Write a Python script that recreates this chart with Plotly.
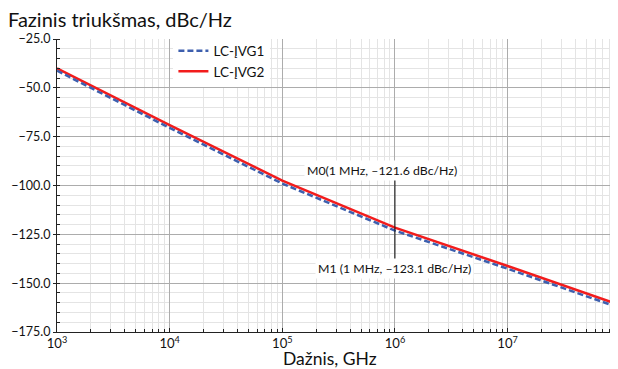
import math
import plotly.graph_objects as go

freq = [1e3, 1e4, 1e5, 1e6, 1e7, 9.5e7]
vg1 = [-41.2, -70.5, -99.0, -123.1, -142.6, -162.3]
vg2 = [-40.0, -69.1, -97.5, -121.6, -141.2, -160.8]
names = ["LC-ĮVG1", "LC-ĮVG2"]
marker_freq = 1e6
m0_val = -121.6
m1_val = -123.1
y_ticks = [-25, -50, -75, -100, -125, -150, -175]

FONT = "Lato"
# page body has an 8px margin, so the figure is sized to fit the 618x369 window
W, H = 610, 361
L, T = 49, 31
PW = W - L
PH = 292.7
B = H - T - PH

fig = go.Figure()
fig.add_trace(go.Scatter(x=freq, y=vg2, mode="lines", name=names[1],
                         line=dict(color="#f21c1c", width=2.5), showlegend=False))
fig.add_trace(go.Scatter(x=freq, y=vg1, mode="lines", name=names[0],
                         line=dict(color="#3d5fae", width=2.5, dash="6px,3px")))
fig.add_trace(go.Scatter(x=[None], y=[None], mode="lines", name=names[1],
                         line=dict(color="#f21c1c", width=2.5)))

fig.update_layout(
    width=W, height=H,
    margin=dict(l=L, r=0, t=T, b=B, autoexpand=False),
    paper_bgcolor="white", plot_bgcolor="white",
    font=dict(family=FONT, size=12, color="#111"),
    showlegend=True,
    legend=dict(x=0.2075, y=1.012, xanchor="left", yanchor="top",
                bgcolor="white", borderwidth=0,
                font=dict(family=FONT, size=13.5, color="#111"),
                itemwidth=30, tracegroupgap=2),
)
fig.update_xaxes(type="log", range=[3, 7.98], dtick=1, exponentformat="power",
                 automargin=False,
                 showline=True, linecolor="#222", linewidth=1,
                 ticks="inside", ticklen=4, tickcolor="#222",
                 showgrid=True, gridcolor="#acacac", gridwidth=1,
                 tickfont=dict(family=FONT, size=10.5, color="#111"),
                 minor=dict(dtick="D1", showgrid=True, gridcolor="#e4e4e4",
                            ticks="inside", ticklen=3, tickcolor="#222"),
                 zeroline=False)
fig.update_yaxes(range=[-175, -25], tickvals=y_ticks,
                 ticktext=[f"\u2212{abs(v):.1f}" for v in y_ticks],
                 automargin=False,
                 showline=True, linecolor="#222", linewidth=1,
                 ticks="outside", ticklen=3, tickcolor="#222",
                 showgrid=True, gridcolor="#acacac", gridwidth=1,
                 tickfont=dict(family=FONT, size=12.5, color="#111"),
                 minor=dict(dtick=5, showgrid=True, gridcolor="#e4e4e4",
                            ticks="inside", ticklen=3, tickcolor="#222"),
                 zeroline=False)

fig.add_annotation(text="Dažnis, GHz", xref="paper", yref="paper",
                   x=(322 - L) / PW, y=-26.5 / PH, xanchor="center", yanchor="middle",
                   showarrow=False, font=dict(family=FONT, size=17.5, color="#111"))
fig.add_annotation(text="Fazinis triukšmas, dBc/Hz", xref="paper", yref="paper",
                   x=-(L + 2) / PW, y=1 + (T - 11) / PH, xanchor="left", yanchor="middle",
                   showarrow=False, font=dict(family=FONT, size=20, color="#111"))

# marker line between the two marker labels
fig.add_shape(type="line", x0=marker_freq, x1=marker_freq, xref="x", yref="paper",
              y0=(331.7 - 272) / PH, y1=(331.7 - 179) / PH,
              line=dict(color="#111", width=1))
fig.add_annotation(text=f"M0(1 MHz, \u2013{abs(m0_val):.1f} dBc/Hz)",
                   x=math.log10(marker_freq), xref="x",
                   yref="paper", y=(331.7 - 170) / PH, xshift=-13,
                   showarrow=False, bgcolor="white", borderpad=2,
                   font=dict(family=FONT, size=12.3, color="#111"))
fig.add_annotation(text=f"M1 (1 MHz, \u2013{abs(m1_val):.1f} dBc/Hz)",
                   x=math.log10(marker_freq), xref="x",
                   yref="paper", y=(331.7 - 279) / PH, xshift=0,
                   showarrow=False, bgcolor="white", borderpad=2,
                   font=dict(family=FONT, size=12.3, color="#111"))

fig.write_html("out.html")
